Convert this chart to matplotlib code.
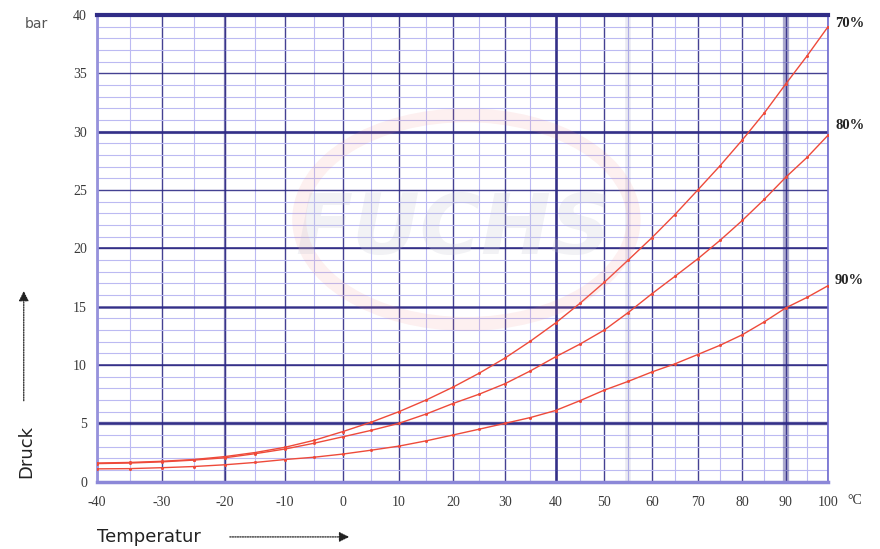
import numpy as np
import matplotlib
matplotlib.use("Agg")
import matplotlib.pyplot as plt
from matplotlib.patches import Circle, FancyArrowPatch

# ---- data ----
temps = [-40, -35, -30, -25, -20, -15, -10, -5, 0, 5, 10, 15, 20, 25, 30,
         35, 40, 45, 50, 55, 60, 65, 70, 75, 80, 85, 90, 95, 100]
p70 = [1.6, 1.65, 1.75, 1.9, 2.15, 2.5, 2.95, 3.55, 4.3, 5.1, 6.0, 7.0, 8.1, 9.3, 10.6,
       12.05, 13.6, 15.3, 17.1, 19.0, 20.9, 22.9, 25.0, 27.1, 29.3, 31.6, 34.1, 36.5, 39.0]
p80 = [1.55, 1.6, 1.7, 1.85, 2.05, 2.4, 2.8, 3.3, 3.85, 4.4, 5.0, 5.8, 6.7, 7.5, 8.4,
       9.5, 10.7, 11.8, 13.0, 14.5, 16.1, 17.6, 19.1, 20.7, 22.4, 24.2, 26.1, 27.8, 29.7]
p90 = [1.1, 1.12, 1.2, 1.3, 1.45, 1.65, 1.9, 2.1, 2.37, 2.7, 3.05, 3.5, 4.0, 4.5, 5.0,
       5.5, 6.1, 6.95, 7.85, 8.6, 9.4, 10.1, 10.9, 11.7, 12.6, 13.7, 14.9, 15.8, 16.8]
series_labels = ["70%", "80%", "90%"]
x_ticks = [-40, -30, -20, -10, 0, 10, 20, 30, 40, 50, 60, 70, 80, 90, 100]
x_ticklabels = ["-40", "-30", "-20", "-10", "0", "10", "20", "30", "40", "50",
                "60", "70", "80", "90", "100"]
y_ticks = [0, 5, 10, 15, 20, 25, 30, 35, 40]

NAVY = "#302c86"
MINOR = "#bcbaf2"
RED = "#ee4a3a"

fig = plt.figure(figsize=(8.8, 5.49), dpi=100)
ax = fig.add_axes([0.110, 0.1226, 0.831, 0.8501])

# x axis: logarithm of the absolute temperature
ax.set_xscale("function", functions=(lambda t: np.log(np.asarray(t) + 273.15),
                                     lambda v: np.exp(v) - 273.15))
ax.set_xlim(-40, 100)
ax.set_ylim(0, 40)

ax.set_xticks(x_ticks)
ax.set_xticklabels(x_ticklabels)
ax.set_xticks(np.arange(-35, 100, 5), minor=True)
ax.set_yticks(y_ticks)
ax.set_yticks(np.arange(0, 41, 1), minor=True)
ax.tick_params(which="both", length=0)
ax.tick_params(axis="x", pad=10, labelsize=10, labelcolor="#3a3a3a")
ax.tick_params(axis="y", pad=7, labelsize=10, labelcolor="#3a3a3a")
for lab in ax.get_xticklabels() + ax.get_yticklabels():
    lab.set_family("Liberation Serif")

ax.grid(which="minor", color=MINOR, linewidth=0.8, zorder=1)
ax.grid(which="major", color=NAVY, linewidth=1.0, alpha=0.9, zorder=2)
ax.set_axisbelow(True)

# heavier printed lines
for yv, lw in [(30, 2.2), (15, 1.8), (5, 2.4), (10, 1.3), (20, 1.4)]:
    ax.axhline(yv, color=NAVY, linewidth=lw, alpha=0.8, zorder=2)
for xv, lw, a in [(40, 2.0, 0.85), (90, 4.5, 0.4), (55, 4.0, 0.10), (-20, 1.6, 0.6)]:
    ax.axvline(xv, color=NAVY, linewidth=lw, alpha=a, zorder=2)

for s in ax.spines.values():
    s.set_color(NAVY)
ax.spines["top"].set_linewidth(3)
ax.spines["bottom"].set_linewidth(2.5)
ax.spines["bottom"].set_color("#8c88d8")
ax.spines["left"].set_linewidth(2)
ax.spines["left"].set_color("#9692dc")
ax.spines["right"].set_linewidth(1.2)
ax.spines["right"].set_color("#6e6ad0")

# faint watermark
fig.text(0.515, 0.58, "FUCHS", fontsize=60, fontweight="bold", style="italic",
         color="#c4c4d4", alpha=0.22, ha="center", va="center", zorder=0,
         family="DejaVu Sans")
ring = Circle((0.53, 0.60), 0.19, transform=fig.transFigure, fill=False,
              edgecolor="#f08c8c", linewidth=10, alpha=0.13, zorder=0)
fig.patches.append(ring)

# curves
for ys in (p70, p80, p90):
    ax.plot(temps, ys, color=RED, linewidth=1.0, marker="o", markersize=2.2,
            markeredgewidth=0, zorder=4)

# series labels at the right
label_y = [0.958, 0.771, 0.489]
for lab, yy in zip(series_labels, label_y):
    fig.text(0.949, yy, lab, fontsize=10.5, fontweight="bold",
             family="Liberation Serif", color="#222222", va="center")

fig.text(0.963, 0.089, "°C", fontsize=10, family="Liberation Serif",
         color="#333333", va="center")
fig.text(0.028, 0.956, "bar", fontsize=10, color="#555555", va="center",
         family="DejaVu Sans")

# axis titles with dotted arrows
fig.text(0.030, 0.13, "Druck", fontsize=13, rotation=90, color="#222222",
         ha="center", va="bottom", family="DejaVu Sans")
fig.add_artist(FancyArrowPatch(
    (0.027, 0.265), (0.027, 0.475), transform=fig.transFigure,
    arrowstyle="-|>,head_length=6,head_width=3", linestyle=(0, (1, 1)),
    linewidth=0.9, color="#222222", mutation_scale=1))
fig.text(0.110, 0.022, "Temperatur", fontsize=13, color="#222222",
         ha="left", va="center", family="DejaVu Sans")
fig.add_artist(FancyArrowPatch(
    (0.258, 0.022), (0.400, 0.022), transform=fig.transFigure,
    arrowstyle="-|>,head_length=6,head_width=3", linestyle=(0, (1, 1)),
    linewidth=0.9, color="#222222", mutation_scale=1))

fig.savefig("out.png", dpi=100)
